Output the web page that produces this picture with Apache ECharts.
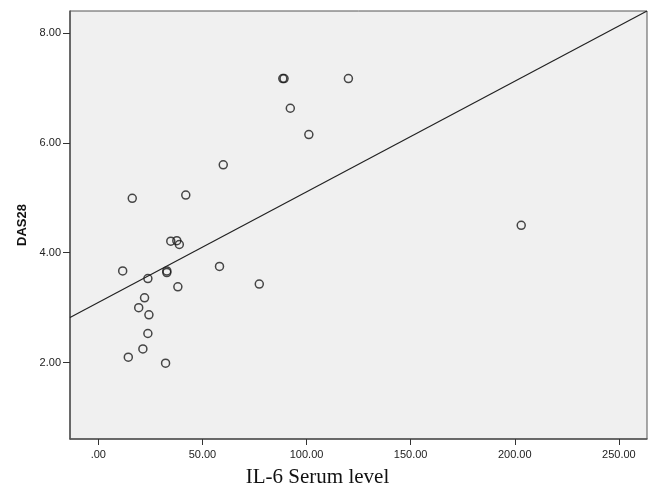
<!DOCTYPE html>
<html>
<head>
<meta charset="utf-8">
<title>DAS28 vs IL-6</title>
<script src="https://cdn.jsdelivr.net/npm/echarts@6/dist/echarts.min.js"></script>
<style>
  html, body { margin: 0; padding: 0; background: #fff; }
  #chart { width: 654px; height: 493px; }
</style>
</head>
<body>
<div id="chart"></div>
<script>
// values
var il6 = [88.6, 89.2, 92.2, 101.1, 120.1, 60.0, 16.3, 42.0, 34.8, 37.7, 38.9,
           11.7, 23.8, 32.9, 32.9, 58.2, 38.2, 77.3, 22.2, 19.4, 24.3, 23.8,
           21.4, 14.4, 32.3, 203.1];
var das28 = [7.17, 7.17, 6.63, 6.15, 7.17, 5.60, 4.99, 5.05, 4.21, 4.22, 4.15,
             3.67, 3.53, 3.64, 3.67, 3.75, 3.38, 3.43, 3.18, 3.00, 2.87, 2.53,
             2.25, 2.10, 1.99, 4.50];

// fit line (as drawn)
var fitIntercept = 3.094;
var fitSlope = 0.02014;

var xMin = -13.6, xMax = 263.5;
var yMin = 0.61, yMax = 8.40;
var xTicks = [0, 50, 100, 150, 200, 250];
var yTicks = [2, 4, 6, 8];

var points = il6.map(function (v, i) { return [v, das28[i]]; });
var fitLine = [
    [xMin, fitIntercept + fitSlope * xMin],
    [xMax, fitIntercept + fitSlope * xMax]
];

function fmt(v) {
    return v === 0 ? '.00' : v.toFixed(2);
}

var myChart = echarts.init(document.getElementById('chart'));
var option = {
    animation: false,
    backgroundColor: '#ffffff',
    grid: {
        left: 70, right: 7, top: 11, bottom: 49,
        containLabel: false,
        show: true,
        backgroundColor: '#f0f0f0',
        borderColor: '#555',
        borderWidth: 1
    },
    xAxis: {
        type: 'value',
        min: xMin,
        max: xMax,
        splitLine: { show: false },
        axisLine: { show: true, onZero: false, lineStyle: { color: '#555', width: 1.5 } },
        axisTick: { show: true, length: 6, customValues: xTicks, lineStyle: { color: '#333' } },
        axisLabel: {
            customValues: xTicks,
            formatter: fmt,
            margin: 10,
            color: '#222',
            fontFamily: 'Liberation Sans, Arial',
            fontSize: 11
        },
        name: 'IL-6 Serum level',
        nameLocation: 'middle',
        nameGap: 28,
        nameTextStyle: {
            fontFamily: 'Liberation Serif, Times New Roman',
            fontSize: 21,
            color: '#111',
            padding: [0, 82, 0, 0]
        }
    },
    yAxis: {
        type: 'value',
        min: yMin,
        max: yMax,
        splitLine: { show: false },
        axisLine: { show: true, onZero: false, lineStyle: { color: '#555', width: 1.5 } },
        axisTick: { show: true, length: 7, customValues: yTicks, lineStyle: { color: '#333' } },
        axisLabel: {
            customValues: yTicks,
            formatter: fmt,
            margin: 9,
            color: '#222',
            fontFamily: 'Liberation Sans, Arial',
            fontSize: 11
        },
        name: 'DAS28',
        nameLocation: 'middle',
        nameGap: 41,
        nameTextStyle: {
            fontFamily: 'Liberation Sans, Arial',
            fontSize: 13,
            fontWeight: 'bold',
            color: '#111'
        }
    },
    series: [
        {
            type: 'line',
            data: fitLine,
            symbol: 'none',
            lineStyle: { color: '#222', width: 1.2 },
            silent: true
        },
        {
            type: 'scatter',
            data: points,
            symbol: 'circle',
            symbolSize: 8,
            itemStyle: { color: 'transparent', borderColor: '#1a1a1a', borderWidth: 1.5 }
        }
    ]
};
myChart.setOption(option);
</script>
</body>
</html>
